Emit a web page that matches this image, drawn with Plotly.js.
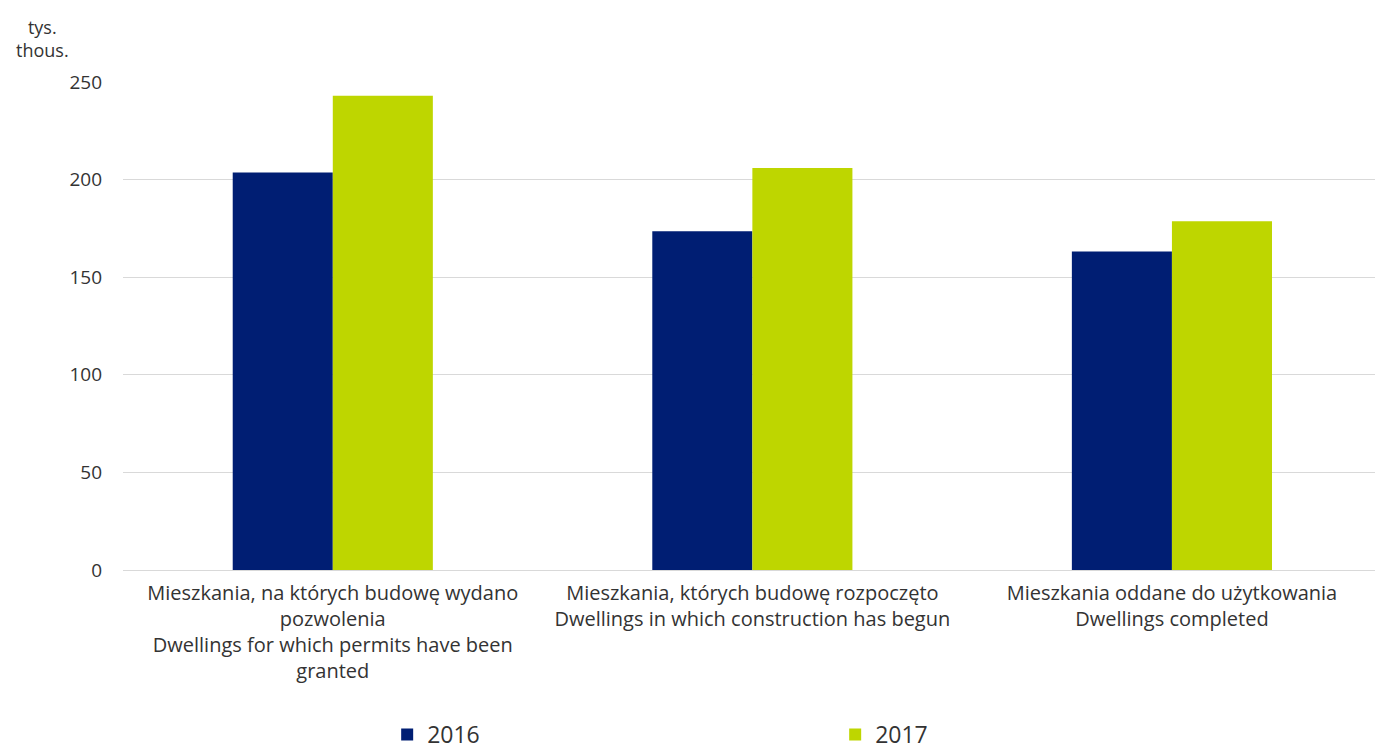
<!DOCTYPE html>
<html>
<head>
<meta charset="utf-8">
<script src="https://cdn.plot.ly/plotly-3.0.1.min.js"></script>
<style>html,body{margin:0;padding:0;background:#fff;}#chart{width:1375px;height:756px;}</style>
</head>
<body>
<div id="chart"></div>
<script>
var categories = [
  "Mieszkania, na których budowę wydano<br>pozwolenia<br>Dwellings for which permits have been<br>granted",
  "Mieszkania, których budowę rozpoczęto<br>Dwellings in which construction has begun",
  "Mieszkania oddane do użytkowania<br>Dwellings completed"
];
var values2016 = [203.6, 173.5, 163.2];
var values2017 = [243.0, 205.9, 178.6];
var seriesNames = ["2016", "2017"];
var tickValues = [0, 50, 100, 150, 200, 250];

var FONT = "Open Sans, Noto Sans, sans-serif";
var TXT = "#333333";

var data = [
  {type: "bar", name: seriesNames[0], x: categories, y: values2016,
   marker: {color: "#001E73"}, hoverinfo: "y"},
  {type: "bar", name: seriesNames[1], x: categories, y: values2017,
   marker: {color: "#BED600"}, hoverinfo: "y"}
];

var layout = {
  width: 1375, height: 756,
  margin: {l: 123, r: 0, t: 82, b: 186, autoexpand: false},
  paper_bgcolor: "#ffffff", plot_bgcolor: "#ffffff",
  font: {family: FONT, color: TXT},
  barmode: "group",
  bargap: 0.523,
  bargroupgap: 0,
  showlegend: true,
  legend: {
    orientation: "h",
    x: 0.211, xanchor: "left",
    y: -0.381, yanchor: "bottom",
    entrywidth: 403, entrywidthmode: "pixels",
    font: {family: FONT, size: 23, color: TXT},
    bgcolor: "rgba(0,0,0,0)"
  },
  xaxis: {
    type: "category",
    range: [-0.5, 2.484],
    showgrid: false,
    zeroline: false,
    showline: false,
    ticks: "",
    ticklabelstandoff: 9,
    tickfont: {family: FONT, size: 20, color: TXT},
    automargin: false,
    fixedrange: true
  },
  yaxis: {
    range: [0, 250],
    tickvals: tickValues,
    ticktext: tickValues.map(String),
    showgrid: true,
    gridcolor: "#d9d9d9",
    gridwidth: 1,
    zeroline: true,
    zerolinecolor: "#d9d9d9",
    zerolinewidth: 1,
    showline: false,
    ticks: "",
    ticklabelstandoff: 20,
    tickfont: {family: FONT, size: 19, color: TXT},
    automargin: false,
    fixedrange: true
  },
  annotations: [
    {text: "tys.<br>thous.", xref: "paper", yref: "paper",
     x: (42 - 123) / 1252, y: 1 + (82 - 38) / 488,
     xanchor: "center", yanchor: "middle", showarrow: false,
     font: {family: FONT, size: 18, color: TXT}}
  ]
};

Plotly.newPlot("chart", data, layout, {displayModeBar: false, staticPlot: true});
</script>
</body>
</html>
